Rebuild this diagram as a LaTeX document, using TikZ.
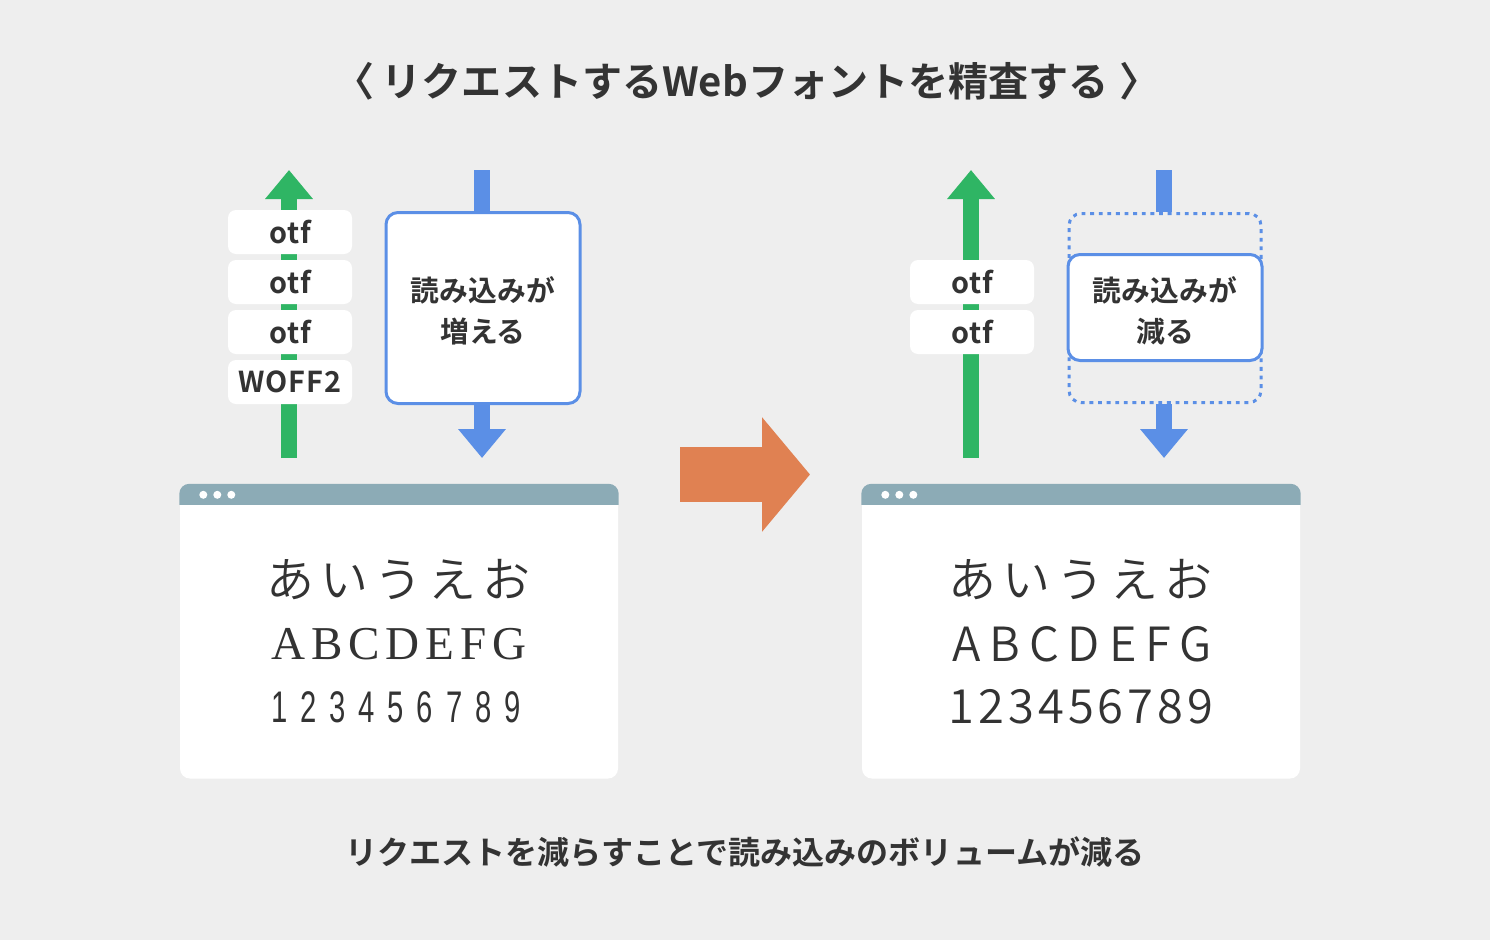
\documentclass[tikz,border=0pt]{standalone}
\usepackage{fontspec}
\usetikzlibrary{arrows.meta}
\setmainfont{Noto Sans CJK JP Bold}
\newfontfamily\jpbold{Noto Sans CJK JP Bold}
\newfontfamily\tagfont[LetterSpace=3]{Noto Sans CJK JP Bold}
\newfontfamily\jplight[LetterSpace=12.5]{Noto Sans CJK JP DemiLight}
\newfontfamily\serifrow[LetterSpace=12.5]{Liberation Serif}
\newfontfamily\latinright[LetterSpace=19]{Noto Sans CJK JP DemiLight}
\newfontfamily\digitright[LetterSpace=8.5]{Noto Sans CJK JP DemiLight}
\newfontfamily\digitrow[LetterSpace=29,FakeStretch=0.66]{Liberation Sans}
\definecolor{bggray}{HTML}{EEEEEE}
\definecolor{inkgray}{HTML}{333333}
\definecolor{upgreen}{HTML}{2FB564}
\definecolor{downblue}{HTML}{5B8FE6}
\definecolor{nextorange}{HTML}{E08152}
\definecolor{barblue}{HTML}{8CABB6}
\tikzset{
  ftag/.style={fill=white, rounded corners=0.08cm, minimum width=1.24cm, minimum height=0.44cm, inner sep=0pt, text=inkgray, font=\fontsize{8.2}{10}\selectfont\tagfont},
  loadbox/.style={draw=downblue, line width=0.03cm, fill=white, rounded corners=0.12cm, minimum width=1.94cm, inner sep=0pt, text=inkgray, align=center, font=\fontsize{8.2}{11.67}\selectfont},
  oldbox/.style={draw=downblue, line width=0.03cm, dash pattern=on 1.1pt off 1.35pt, rounded corners=0.12cm, minimum width=1.92cm, minimum height=1.89cm, inner sep=0pt},
  upline/.style={draw=upgreen, line width=0.16cm, -{Triangle[width=0.46cm,length=0.29cm]}},
  downline/.style={draw=downblue, line width=0.16cm},
  downtip/.style={downline, -{Triangle[width=0.46cm,length=0.29cm]}},
  winbody/.style={fill=white, rounded corners=0.1cm, minimum width=4.38cm, minimum height=2.94cm, inner sep=0pt},
  samplerow/.style={text=inkgray, inner sep=0pt},
}
\def\browserwin(#1)#2{
  \node[winbody] (#2) at (#1) {};
  \fill[barblue] ([yshift=-0.21cm]#2.north west) [rounded corners=0.1cm] -- (#2.north west) -- (#2.north east) [sharp corners] -- ([yshift=-0.21cm]#2.north east) -- cycle;
  \fill[white] ([xshift=0.24cm,yshift=-0.11cm]#2.north west) circle (0.04);
  \fill[white] ([xshift=0.38cm,yshift=-0.11cm]#2.north west) circle (0.04);
  \fill[white] ([xshift=0.52cm,yshift=-0.11cm]#2.north west) circle (0.04);
}
\def\boxstrut{\rule{0pt}{8.9pt}}
\begin{document}
\begin{tikzpicture}
	\fill[bggray] (0, 0) rectangle (14.9, 9.4);
	
	\node[text=inkgray, font=\fontsize{11.4}{13}\selectfont\jpbold] (title) at (7.47, 8.59) {〈\hspace{2pt}リクエストするWebフォントを精査する\hspace{3pt}〉};
	
	%%%%% left %%%%%
	\coordinate (greenfootL) at (2.89, 4.82);
	\coordinate (greentipL) at (2.89, 7.70);
	\draw[upline] (greenfootL) -- (greentipL);
	\node[ftag] (tagA) at (2.90, 7.08) {otf};
	\node[ftag] (tagB) at (2.90, 6.58) {otf};
	\node[ftag] (tagC) at (2.90, 6.08) {otf};
	\node[ftag] (tagD) at (2.90, 5.58) {WOFF2};
	
	\node[loadbox, minimum height=1.91cm] (loadL) at (4.83, 6.32) {\boxstrut 読み込みが\\増える};
	\coordinate (bluetopL) at (4.82, 7.70);
	\coordinate (bluetipL) at (4.82, 4.82);
	\draw[downline] (bluetopL) -- (bluetopL |- loadL.north);
	\draw[downtip] (bluetipL |- loadL.south) -- (bluetipL);
	
	\browserwin(3.99, 3.085){winL}
	\node[samplerow, font=\fontsize{13.66}{15}\selectfont\jplight] (kanaL) at (3.99, 3.60) {あいうえお};
	\node[samplerow, font=\fontsize{13.4}{15}\selectfont\serifrow] (latinL) at (3.99, 2.96) {ABCDEFG};
	\node[samplerow, font=\fontsize{12.6}{15}\selectfont\digitrow] (digitL) at (3.96, 2.33) {123456789};
	
	%%%%% middle %%%%%
	\coordinate (nextA) at (6.80, 4.655);
	\coordinate (nextB) at (8.10, 4.655);
	\draw[draw=nextorange, line width=0.55cm, -{Triangle[width=1.12cm,length=0.48cm]}] (nextA) -- (nextB);
	
	%%%%% right %%%%%
	\coordinate (greenfootR) at (9.71, 4.82);
	\coordinate (greentipR) at (9.71, 7.70);
	\draw[upline] (greenfootR) -- (greentipR);
	\node[ftag] (tagE) at (9.72, 6.58) {otf};
	\node[ftag] (tagF) at (9.72, 6.08) {otf};
	
	\node[oldbox] (oldR) at (11.65, 6.32) {};
	\node[loadbox, minimum height=1.06cm] (loadR) at (11.65, 6.325) {\boxstrut 読み込みが\\減る};
	\coordinate (bluetopR) at (11.64, 7.70);
	\coordinate (bluetipR) at (11.64, 4.82);
	\draw[downline] (bluetopR) -- (bluetopR |- oldR.north);
	\draw[downtip] (bluetipR |- oldR.south) -- (bluetipR);
	
	\browserwin(10.81, 3.085){winR}
	\node[samplerow, font=\fontsize{13.66}{15}\selectfont\jplight] (kanaR) at (10.81, 3.60) {あいうえお};
	\node[samplerow, font=\fontsize{13.4}{15}\selectfont\latinright] (latinR) at (10.82, 2.96) {ABCDEFG};
	\node[samplerow, font=\fontsize{13.4}{15}\selectfont\digitright] (digitR) at (10.81, 2.33) {123456789};
	
	\node[text=inkgray, font=\fontsize{9.12}{11}\selectfont\jpbold] (caption) at (7.45, 0.88) {リクエストを減らすことで読み込みのボリュームが減る};
\end{tikzpicture}
\end{document}
